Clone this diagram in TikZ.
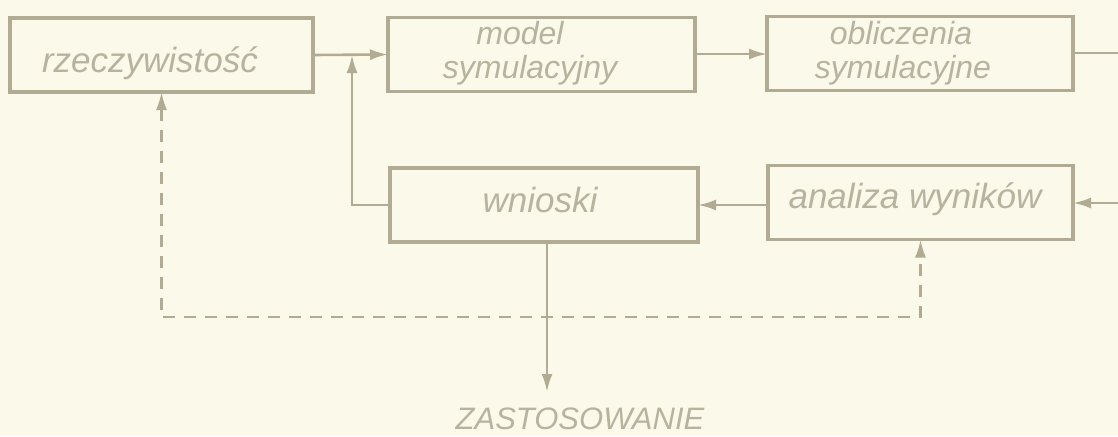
\documentclass[tikz,border=0pt]{standalone}
\usepackage{fontspec}
\setmainfont{Liberation Sans}
\usetikzlibrary{arrows.meta}
\definecolor{paper}{HTML}{FBF9E9}
\definecolor{ink}{HTML}{B0AB92}
\definecolor{txt}{HTML}{B7B39E}
\tikzset{
  box/.style={draw=ink, line width=3.2pt, minimum width=#1, minimum height=74pt, inner sep=0pt, outer sep=0pt},
  lbl/.style={text=txt, font=\fontsize{35}{30}\selectfont\itshape, inner sep=0pt, anchor=base},
  lbltwo/.style={lbl, font=\fontsize{32}{30}\selectfont\itshape},
  conn/.style={draw=ink, line width=2.6pt},
  arr/.style={conn, -{Latex[length=18pt,width=11pt]}},
  darr/.style={draw=ink, line width=2.4pt, dash pattern=on 12pt off 9pt, {Latex[length=18pt,width=11pt]}-{Latex[length=18pt,width=11pt]}},
}
\begin{document}
\begin{tikzpicture}[x=1pt,y=-1pt]
\fill[paper] (0,0) rectangle (1118,436);
\useasboundingbox (0,0) rectangle (1118,436);
% boxes
\node[box=303pt] (rz) at (161.5,55) {};
\node[box=307pt] (mo) at (541.5,54.5) {};
\node[box=306pt] (ob) at (920,53.5) {};
\node[box=308pt] (wn) at (544,205) {};
\node[box=305pt] (an) at (920.5,202.5) {};
% labels
\node[lbl] (rzt) at (150,73) {rzeczywistość};
\node[lbltwo] (mot1) at (520,45) {model};
\node[lbltwo] (mot2) at (530,78) {symulacyjny};
\node[lbltwo] (obt1) at (901,45) {obliczenia};
\node[lbltwo] (obt2) at (903,78) {symulacyjne};
\node[lbl] (wnt) at (540,212) {wnioski};
\node[lbl] (ant) at (915,208) {analiza wyników};
\node[lbl, font=\fontsize{31}{31}\selectfont\itshape] (zas) at (580,429) {ZASTOSOWANIE};
% coordinates
\coordinate (j) at (352,55);
\coordinate (jw) at (352,205);
\coordinate (oe) at (1140,53);
\coordinate (ae) at (1140,203);
\coordinate (zt) at (547,392);
\coordinate (dl) at (161.5,317);
% connectors
\draw[arr] (rz.east) -- (mo.west);
\draw[arr] (mo.east |- 0,54) -- (ob.west |- 0,54);
\draw[arr] (wn.west) -- (jw) -- (j);
\draw[conn] (ob.east |- oe) -- (oe) -- (ae);
\draw[arr] (ae) -- (an.east |- ae);
\draw[arr] (an.west |- 0,205) -- (wn.east |- 0,205);
\draw[arr] (wn.south -| zt) -- (zt);
\draw[darr] (rz.south) -- (dl) -| (an.south);
\end{tikzpicture}
\end{document}
